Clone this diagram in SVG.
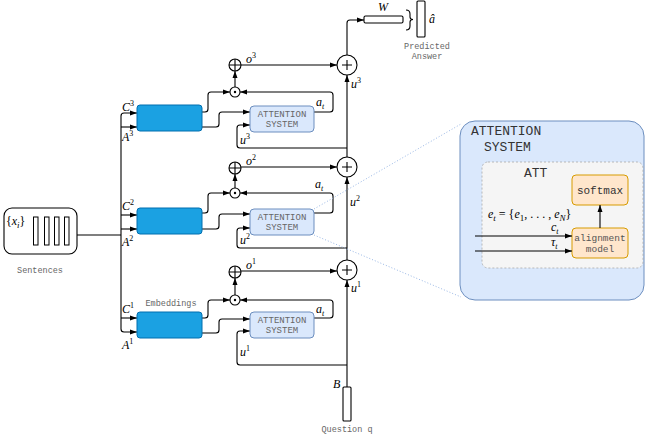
<svg xmlns="http://www.w3.org/2000/svg" width="645" height="443" viewBox="0 0 645 443">
<defs>
<marker id="ah" markerWidth="7" markerHeight="6" refX="7" refY="3" orient="auto" markerUnits="userSpaceOnUse"><path d="M0,0.5 L7,3 L0,5.5 z" fill="#000"/></marker>
<style>
.ln{fill:none;stroke:#000;stroke-width:1.1}
.ar{fill:none;stroke:#000;stroke-width:1.1;marker-end:url(#ah)}
.emb{fill:#1ba1e2;stroke:#006eaf;stroke-width:1}
.att{fill:#dae8fc;stroke:#6c8ebf;stroke-width:1}
.mono{font-family:"Liberation Mono","DejaVu Sans Mono",monospace;fill:#666}
.atxt{font-family:"Liberation Mono","DejaVu Sans Mono",monospace;fill:#666;font-size:9px;text-anchor:middle}
.m{font-family:"Liberation Serif","DejaVu Serif",serif;font-style:italic;font-size:12px;fill:#000}
.n{font-style:normal}
.circ{fill:#fff;stroke:#000;stroke-width:1.1}
.or{fill:#ffe6cc;stroke:#d79b00;stroke-width:1}
.dot{fill:none;stroke:#9ab8e6;stroke-width:1;stroke-dasharray:1 2}
</style>
</defs>

<g id="connectors">
<path class="ln" d="M77,235 H121"/>
<path class="ar" d="M121,235 V116 Q121,113 124,113 H137"/>
<path class="ar" d="M121,235 V329 Q121,332 124,332 H137"/>
<path class="ar" d="M121,127 H137"/>
<path class="ar" d="M121,215 H137"/>
<path class="ar" d="M121,229 H137"/>
<path class="ar" d="M121,318 H137"/>
<path class="ar" d="M202,112 H205 Q208,112 208,109 V95 Q208,92 211,92 H230"/>
<path class="ar" d="M202,127 H216 Q219,127 219,124 V115 Q219,112 222,112 H250"/>
<path class="ar" d="M314,112 H330 Q333,112 333,109 V95 Q333,92 330,92 H240"/>
<path class="ar" d="M235,87 V71"/>
<path class="ar" d="M241,65 H337"/>
<path class="ar" d="M347,148 H240 Q237,148 237,145 V128 Q237,125 240,125 H250"/>
<path class="ar" d="M202,213 H205 Q208,213 208,210 V196 Q208,193 211,193 H230"/>
<path class="ar" d="M202,229 H216 Q219,229 219,226 V217 Q219,214 222,214 H250"/>
<path class="ar" d="M314,213 H330 Q333,213 333,210 V196 Q333,193 330,193 H240"/>
<path class="ar" d="M235,188 V174"/>
<path class="ar" d="M241,167 H337"/>
<path class="ar" d="M347,248 H240 Q237,248 237,245 V231 Q237,228 240,228 H250"/>
<path class="ar" d="M202,318 H205 Q208,318 208,315 V303 Q208,300 211,300 H230"/>
<path class="ar" d="M202,333 H216 Q219,333 219,330 V322 Q219,319 222,319 H250"/>
<path class="ar" d="M314,318 H330 Q333,318 333,315 V303 Q333,300 330,300 H240"/>
<path class="ar" d="M235,295 V278"/>
<path class="ar" d="M241,271 H337"/>
<path class="ar" d="M347,365 H240 Q237,365 237,362 V334 Q237,331 240,331 H250"/>
<path class="ar" d="M347,387 V280"/>
<path class="ar" d="M347,260 V177"/>
<path class="ar" d="M347,157 V75"/>
<path class="ar" d="M347,55 V23 Q347,20 350,20 H364"/>
<path class="dot" d="M314,209 L461,124"/>
<path class="dot" d="M314,235 L461,297"/>
</g>

<g id="sentences">
<rect x="4" y="208" width="73" height="46" rx="8" fill="#fff" stroke="#000" stroke-width="1.1"/>
<rect x="33.5" y="217" width="4.5" height="28" fill="#fff" stroke="#000" stroke-width="1"/>
<rect x="44.5" y="217" width="4.5" height="28" fill="#fff" stroke="#000" stroke-width="1"/>
<rect x="54.5" y="217" width="4.5" height="28" fill="#fff" stroke="#000" stroke-width="1"/>
<rect x="64.5" y="217" width="4.5" height="28" fill="#fff" stroke="#000" stroke-width="1"/>
<text class="m" x="6" y="225" font-size="14"><tspan class="n">{</tspan>x<tspan dy="3" font-size="9">i</tspan><tspan dy="-3" class="n">}</tspan></text>
<text class="mono" x="40" y="273" font-size="8.5" text-anchor="middle">Sentences</text>
</g>

<g id="bus-labels">
<text class="m" x="122" y="111">C<tspan dy="-5" font-size="8" class="n">3</tspan></text>
<text class="m" x="122" y="141">A<tspan dy="-5" font-size="8" class="n">3</tspan></text>
<text class="m" x="122" y="210">C<tspan dy="-5" font-size="8" class="n">2</tspan></text>
<text class="m" x="122" y="246">A<tspan dy="-5" font-size="8" class="n">2</tspan></text>
<text class="m" x="122" y="313">C<tspan dy="-5" font-size="8" class="n">1</tspan></text>
<text class="m" x="122" y="349">A<tspan dy="-5" font-size="8" class="n">1</tspan></text>
</g>

<g id="emb3"><rect class="emb" x="137" y="105" width="65" height="26" rx="3"/></g>
<g id="emb2"><rect class="emb" x="137" y="208" width="65" height="26" rx="3"/></g>
<g id="emb1"><rect class="emb" x="137" y="312" width="65" height="26" rx="3"/>
<text class="mono" x="171" y="306" font-size="8.5" text-anchor="middle">Embeddings</text></g>

<g id="att3"><rect class="att" x="250" y="106" width="64" height="26" rx="4"/>
<text class="atxt" x="282" y="117">ATTENTION</text><text class="atxt" x="282" y="127">SYSTEM</text></g>
<g id="att2"><rect class="att" x="250" y="209" width="64" height="26" rx="4"/>
<text class="atxt" x="282" y="220">ATTENTION</text><text class="atxt" x="282" y="230">SYSTEM</text></g>
<g id="att1"><rect class="att" x="250" y="312" width="64" height="26" rx="4"/>
<text class="atxt" x="282" y="323">ATTENTION</text><text class="atxt" x="282" y="333">SYSTEM</text></g>

<g id="ops3">
<circle class="circ" cx="235" cy="92" r="5"/><circle cx="235" cy="92" r="1.2" fill="#000"/>
<circle class="circ" cx="235" cy="65" r="6"/><path class="ln" d="M229,65 H241 M235,59 V71"/>
<text class="m" x="246" y="63">o<tspan dy="-5" font-size="8" class="n">3</tspan></text>
<text class="m" x="316" y="106">a<tspan dy="3" font-size="8">t</tspan></text>
<text class="m" x="240" y="144">u<tspan dy="-5" font-size="8" class="n">3</tspan></text>
</g>
<g id="ops2">
<circle class="circ" cx="235" cy="193" r="5"/><circle cx="235" cy="193" r="1.2" fill="#000"/>
<circle class="circ" cx="235" cy="168" r="6"/><path class="ln" d="M229,168 H241 M235,162 V174"/>
<text class="m" x="246" y="165">o<tspan dy="-5" font-size="8" class="n">2</tspan></text>
<text class="m" x="315" y="188">a<tspan dy="3" font-size="8">t</tspan></text>
<text class="m" x="240" y="244">u<tspan dy="-5" font-size="8" class="n">2</tspan></text>
</g>
<g id="ops1">
<circle class="circ" cx="235" cy="300" r="5"/><circle cx="235" cy="300" r="1.2" fill="#000"/>
<circle class="circ" cx="235" cy="272" r="6"/><path class="ln" d="M229,272 H241 M235,266 V278"/>
<text class="m" x="246" y="269">o<tspan dy="-5" font-size="8" class="n">1</tspan></text>
<text class="m" x="316" y="313">a<tspan dy="3" font-size="8">t</tspan></text>
<text class="m" x="240" y="356">u<tspan dy="-5" font-size="8" class="n">1</tspan></text>
</g>

<g id="plus3"><circle class="circ" cx="347" cy="65" r="10"/><path class="ln" d="M342,65 H352 M347,60 V70"/>
<text class="m" x="351" y="88">u<tspan dy="-5" font-size="8" class="n">3</tspan></text></g>
<g id="plus2"><circle class="circ" cx="347" cy="167" r="10"/><path class="ln" d="M342,167 H352 M347,162 V172"/>
<text class="m" x="350" y="206">u<tspan dy="-5" font-size="8" class="n">2</tspan></text></g>
<g id="plus1"><circle class="circ" cx="347" cy="270" r="10"/><path class="ln" d="M342,270 H352 M347,265 V275"/>
<text class="m" x="351" y="292">u<tspan dy="-5" font-size="8" class="n">1</tspan></text></g>

<g id="W">
<rect x="364" y="16" width="39" height="7" rx="1.5" fill="#fff" stroke="#000" stroke-width="1.1"/>
<text class="m" x="378" y="11" font-size="11">W</text>
</g>
<g id="answer">
<path class="ln" d="M406,10 Q410,10 410,14 V17 Q410,19.5 413,19.5 Q410,19.5 410,22 V26 Q410,30 406,30"/>
<rect x="417" y="1" width="8" height="36" rx="1" fill="#fff" stroke="#000" stroke-width="1.1"/>
<text class="m" x="429" y="23" font-size="12">â</text>
<text class="mono" x="427" y="49" font-size="8.5" text-anchor="middle">Predicted</text>
<text class="mono" x="427" y="59" font-size="8.5" text-anchor="middle">Answer</text>
</g>

<g id="question">
<rect x="343" y="387" width="8" height="34" rx="1" fill="#fff" stroke="#000" stroke-width="1.1"/>
<text class="m" x="333" y="388">B</text>
<text class="mono" x="347" y="432" font-size="8.5" text-anchor="middle">Question q</text>
</g>

<g id="attention-detail">
<rect x="460" y="121" width="184" height="179" rx="15" fill="#dae8fc" stroke="#6c8ebf" stroke-width="1"/>
<text class="mono" x="471" y="135" font-size="13" style="fill:#333">ATTENTION</text>
<text class="mono" x="484" y="151" font-size="13" style="fill:#333">SYSTEM</text>
<rect x="482" y="162" width="161" height="106" rx="6" fill="#f5f5f5" stroke="#aaa" stroke-width="0.8" stroke-dasharray="2 2"/>
<text class="mono" x="524" y="177" font-size="13" style="fill:#333">ATT</text>
<g id="softmax"><rect class="or" x="572" y="175" width="56" height="30" rx="4"/>
<text class="mono" x="600" y="194" font-size="11" text-anchor="middle" style="fill:#333">softmax</text></g>
<g id="alignment"><rect class="or" x="572" y="228" width="56" height="30" rx="4"/>
<text class="mono" x="600" y="241" font-size="9.5" text-anchor="middle" style="fill:#555">alignment</text>
<text class="mono" x="600" y="252" font-size="9.5" text-anchor="middle" style="fill:#555">model</text></g>
<path class="ar" d="M600,228 V205"/>
<path class="ar" d="M475,236 H572"/>
<path class="ar" d="M475,251 H572"/>
<text class="m" x="488" y="218" font-size="13">e<tspan dy="3" font-size="9">t</tspan><tspan dy="-3" class="n"> = {</tspan>e<tspan dy="3" font-size="9" class="n">1</tspan><tspan dy="-3" class="n">, . . . , </tspan>e<tspan dy="3" font-size="9">N</tspan><tspan dy="-3" class="n">}</tspan></text>
<text class="m" x="551" y="231" font-size="12">c<tspan dy="3" font-size="8">t</tspan></text>
<text class="m" x="551" y="246" font-size="12">τ<tspan dy="3" font-size="8">t</tspan></text>
</g>
</svg>
